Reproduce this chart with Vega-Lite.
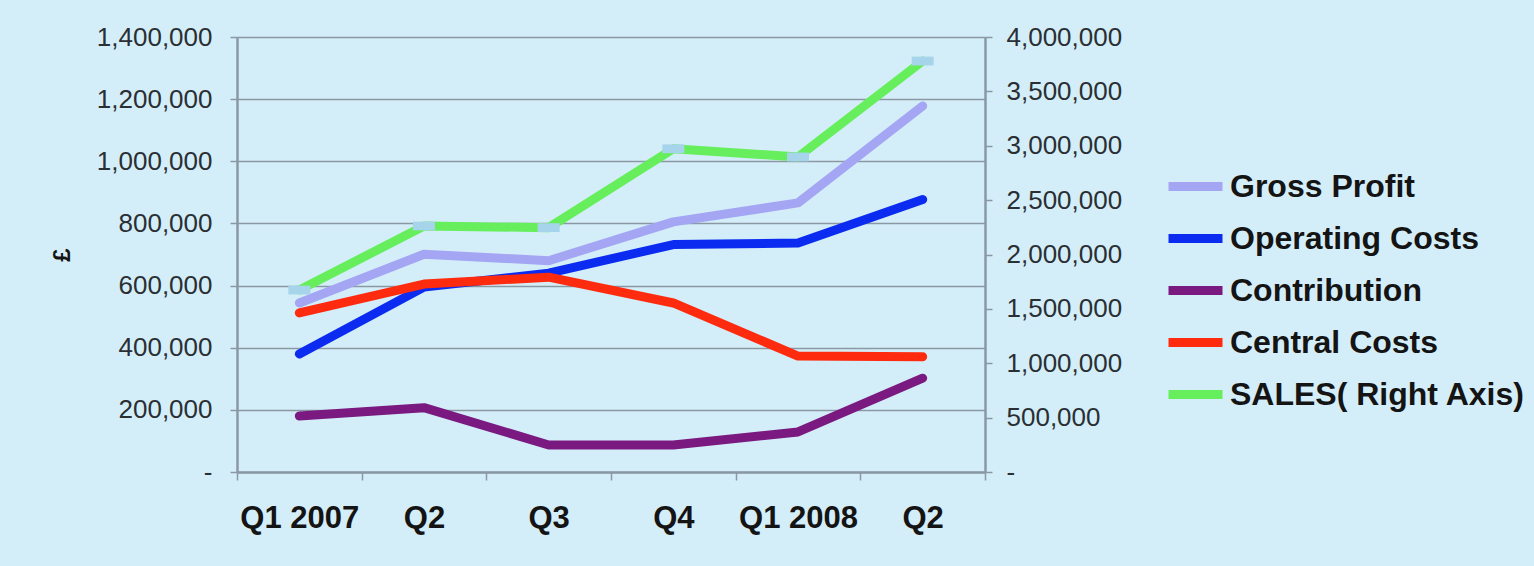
{
  "$schema": "https://vega.github.io/schema/vega-lite/v6.json",
  "autosize": "none",
  "width": 748,
  "height": 435,
  "padding": {"left": 237, "top": 37, "right": 549, "bottom": 94},
  "background": "#d4eef9",
  "config": {
    "view": {"stroke": null},
    "font": "Liberation Sans"
  },
  "datasets": {
    "main": [
      {"quarter": "Q1 2007", "series": "Gross Profit", "value": 544000},
      {"quarter": "Q2", "series": "Gross Profit", "value": 701000},
      {"quarter": "Q3", "series": "Gross Profit", "value": 680000},
      {"quarter": "Q4", "series": "Gross Profit", "value": 805000},
      {"quarter": "Q1 2008", "series": "Gross Profit", "value": 866000},
      {"quarter": "Q2 ", "series": "Gross Profit", "value": 1178000},
      {"quarter": "Q1 2007", "series": "Operating Costs", "value": 380000},
      {"quarter": "Q2", "series": "Operating Costs", "value": 595000},
      {"quarter": "Q3", "series": "Operating Costs", "value": 640000},
      {"quarter": "Q4", "series": "Operating Costs", "value": 732000},
      {"quarter": "Q1 2008", "series": "Operating Costs", "value": 737000},
      {"quarter": "Q2 ", "series": "Operating Costs", "value": 877000},
      {"quarter": "Q1 2007", "series": "Contribution", "value": 180000},
      {"quarter": "Q2", "series": "Contribution", "value": 207000},
      {"quarter": "Q3", "series": "Contribution", "value": 87000},
      {"quarter": "Q4", "series": "Contribution", "value": 87000},
      {"quarter": "Q1 2008", "series": "Contribution", "value": 129000},
      {"quarter": "Q2 ", "series": "Contribution", "value": 302000},
      {"quarter": "Q1 2007", "series": "Central Costs", "value": 512000},
      {"quarter": "Q2", "series": "Central Costs", "value": 605000},
      {"quarter": "Q3", "series": "Central Costs", "value": 627000},
      {"quarter": "Q4", "series": "Central Costs", "value": 544000},
      {"quarter": "Q1 2008", "series": "Central Costs", "value": 373000},
      {"quarter": "Q2 ", "series": "Central Costs", "value": 371000}
    ],
    "sales": [
      {"quarter": "Q1 2007", "series": "SALES( Right Axis)", "value": 1673000},
      {"quarter": "Q2", "series": "SALES( Right Axis)", "value": 2262000},
      {"quarter": "Q3", "series": "SALES( Right Axis)", "value": 2247000},
      {"quarter": "Q4", "series": "SALES( Right Axis)", "value": 2972000},
      {"quarter": "Q1 2008", "series": "SALES( Right Axis)", "value": 2897000},
      {"quarter": "Q2 ", "series": "SALES( Right Axis)", "value": 3779000}
    ]
  },
  "encoding": {
    "x": {
      "field": "quarter",
      "type": "nominal",
      "sort": ["Q1 2007", "Q2", "Q3", "Q4", "Q1 2008", "Q2 "],
      "bandPosition": 0.5,
      "scale": {"type": "band", "paddingInner": 0, "paddingOuter": 0},
      "axis": {
        "title": null,
        "labelAngle": 0,
        "labelFont": "Liberation Sans",
        "labelFontWeight": "bold",
        "labelFontSize": 31,
        "labelColor": "#141414",
        "labelPadding": 23,
        "tickBand": "extent",
        "ticks": true,
        "tickSize": 8,
        "tickColor": "#8a98a4",
        "tickWidth": 1.5,
        "domainColor": "#8a98a4",
        "domainWidth": 2.5,
        "grid": false
      }
    }
  },
  "layer": [
    {
      "data": {"name": "main"},
      "mark": {"type": "line", "strokeWidth": 9, "strokeCap": "round", "strokeJoin": "round"},
      "encoding": {
        "y": {
          "field": "value",
          "type": "quantitative",
          "scale": {"domain": [0, 1400000], "nice": false},
          "axis": {
            "title": "£",
            "titleFont": "Liberation Sans",
            "titleFontWeight": "bold",
            "titleFontSize": 24,
            "titleColor": "#141414",
            "titlePadding": 22,
            "values": [0, 200000, 400000, 600000, 800000, 1000000, 1200000, 1400000],
            "labelExpr": "datum.value == 0 ? '-' : format(datum.value, ',')",
            "labelFont": "Liberation Sans",
            "labelFontSize": 26,
            "labelColor": "#2a2f33",
            "labelPadding": 18,
            "tickSize": 7,
            "tickColor": "#8a98a4",
            "tickWidth": 1.5,
            "domainColor": "#8a98a4",
            "domainWidth": 2.5,
            "grid": true,
            "gridColor": "#8a98a4",
            "gridWidth": 1.5
          }
        },
        "color": {
          "field": "series",
          "type": "nominal",
          "scale": {
            "domain": ["Gross Profit", "Operating Costs", "Contribution", "Central Costs", "SALES( Right Axis)"],
            "range": ["#a4a6f4", "#0b2cf0", "#7a1a80", "#ff2b0f", "#66ee5c"]
          },
          "legend": {
            "title": null,
            "orient": "none",
            "legendX": 927,
            "legendY": 118,
            "padding": 0,
            "symbolType": "stroke",
            "symbolStrokeWidth": 9,
            "symbolSize": 2916,
            "labelFont": "Liberation Sans",
            "labelFontWeight": "bold",
            "labelFontSize": 32,
            "labelColor": "#141414",
            "labelOffset": 3,
            "rowPadding": 2,
            "labelLimit": 400
          }
        }
      }
    },
    {
      "data": {"name": "sales"},
      "layer": [
        {
          "mark": {"type": "line", "strokeWidth": 9, "strokeCap": "round", "strokeJoin": "round"},
          "encoding": {
            "y": {
              "field": "value",
              "type": "quantitative",
              "scale": {"domain": [0, 4000000], "nice": false},
              "axis": {
                "orient": "right",
                "title": null,
                "values": [0, 500000, 1000000, 1500000, 2000000, 2500000, 3000000, 3500000, 4000000],
                "labelExpr": "datum.value == 0 ? '-' : format(datum.value, ',')",
                "labelFont": "Liberation Sans",
                "labelFontSize": 26,
                "labelColor": "#2a2f33",
                "labelPadding": 14,
                "tickSize": 7,
                "tickColor": "#8a98a4",
                "tickWidth": 1.5,
                "domainColor": "#8a98a4",
                "domainWidth": 2.5,
                "grid": false
              }
            },
            "color": {"field": "series", "type": "nominal"}
          }
        },
        {
          "mark": {"type": "point", "shape": "M-1,-0.4L1,-0.4L1,0.4L-1,0.4Z", "filled": true, "size": 484, "color": "#a6d4ea", "opacity": 1},
          "encoding": {
            "y": {"field": "value", "type": "quantitative"}
          }
        }
      ]
    }
  ],
  "resolve": {"scale": {"y": "independent"}}
}
